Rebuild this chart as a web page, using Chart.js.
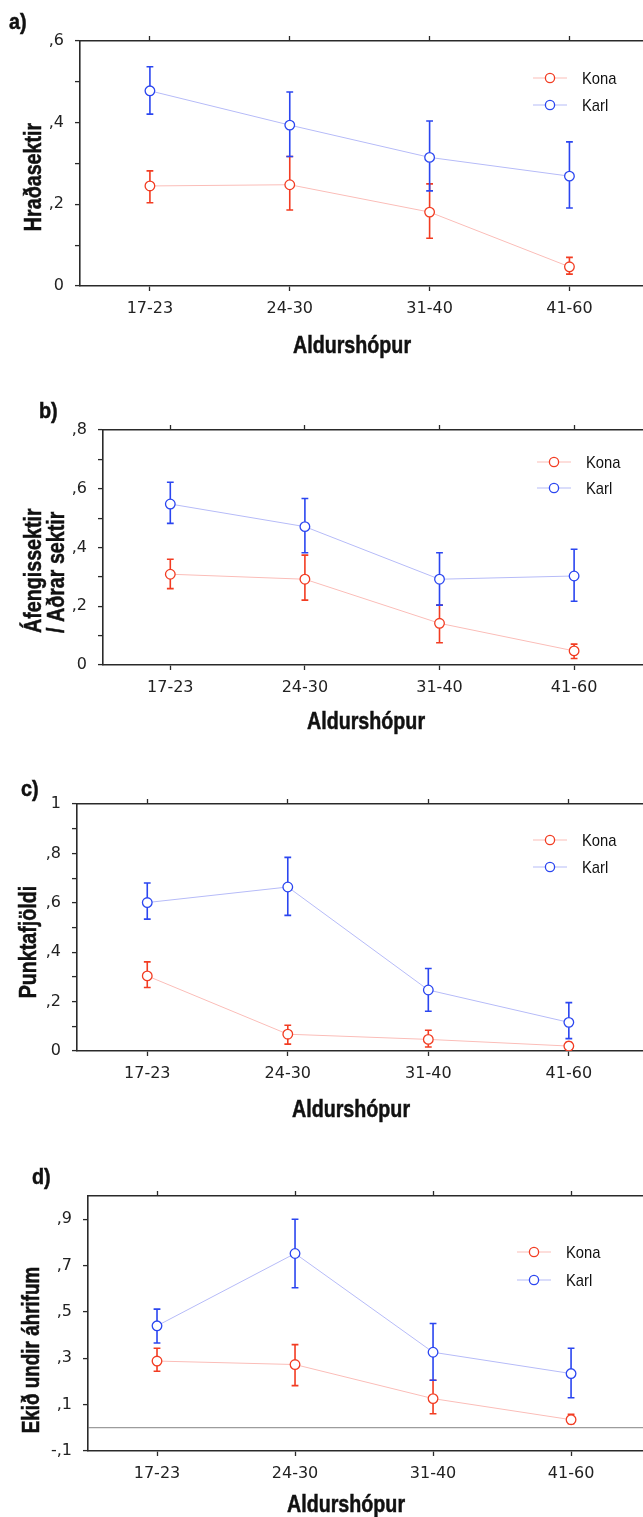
<!DOCTYPE html>
<html lang="is">
<head>
<meta charset="utf-8">
<title>Sektir eftir aldurshópi og kyni</title>
<script src="https://cdn.jsdelivr.net/npm/chart.js@4"></script>
<style>
  html, body { margin: 0; padding: 0; background: #fff; }
  #sida { position: relative; width: 643px; height: 1517px; overflow: hidden; background: #fff; }
  #sida > div { position: absolute; left: 0; width: 700px; }
</style>
</head>
<body>
<div id="sida"></div>
<script>
// Meðaltöl og öryggisbil eftir aldurshópi og kyni
const aldursflokkar = ['17-23', '24-30', '31-40', '41-60'];

// a) Hraðasektir
const hradiKona = [0.245, 0.248, 0.181, 0.047];
const hradiKonaNedri = [0.204, 0.186, 0.117, 0.029];
const hradiKonaEfri = [0.282, 0.317, 0.250, 0.070];
const hradiKarl = [0.478, 0.394, 0.315, 0.269];
const hradiKarlNedri = [0.421, 0.317, 0.233, 0.191];
const hradiKarlEfri = [0.537, 0.475, 0.404, 0.353];
const hradiYTikk = [0, 0.1, 0.2, 0.3, 0.4, 0.5, 0.6];
const hradiYMerki = ['0', '', ',2', '', ',4', '', ',6'];

// b) Áfengissektir / Aðrar sektir
const afengiKona = [0.309, 0.292, 0.142, 0.048];
const afengiKonaNedri = [0.260, 0.221, 0.076, 0.022];
const afengiKonaEfri = [0.360, 0.374, 0.204, 0.071];
const afengiKarl = [0.548, 0.471, 0.292, 0.303];
const afengiKarlNedri = [0.482, 0.382, 0.204, 0.217];
const afengiKarlEfri = [0.622, 0.567, 0.382, 0.394];
const afengiYTikk = [0, 0.1, 0.2, 0.3, 0.4, 0.5, 0.6, 0.7, 0.8];
const afengiYMerki = ['0', '', ',2', '', ',4', '', ',6', '', ',8'];

// c) Punktafjöldi
const punktarKona = [0.304, 0.068, 0.047, 0.020];
const punktarKonaNedri = [0.257, 0.028, 0.016, 0.006];
const punktarKonaEfri = [0.361, 0.104, 0.084, 0.035];
const punktarKarl = [0.601, 0.664, 0.247, 0.116];
const punktarKarlNedri = [0.534, 0.549, 0.161, 0.050];
const punktarKarlEfri = [0.680, 0.784, 0.334, 0.196];
const punktarYTikk = [0, 0.1, 0.2, 0.3, 0.4, 0.5, 0.6, 0.7, 0.8, 0.9, 1];
const punktarYMerki = ['0', '', ',2', '', ',4', '', ',6', '', ',8', '', '1'];

// d) Ekið undir áhrifum
const olvunKona = [0.288, 0.273, 0.126, 0.035];
const olvunKonaNedri = [0.244, 0.182, 0.061, 0.018];
const olvunKonaEfri = [0.343, 0.359, 0.205, 0.058];
const olvunKarl = [0.440, 0.752, 0.326, 0.234];
const olvunKarlNedri = [0.366, 0.604, 0.205, 0.130];
const olvunKarlEfri = [0.512, 0.900, 0.450, 0.343];
const olvunYTikk = [-0.1, 0, 0.1, 0.3, 0.5, 0.7, 0.9];
const olvunYMerki = ['-,1', '', ',1', ',3', ',5', ',7', ',9'];

// Litir og letur
const konaLitur = '#f23c22';
const konaLina = '#fbbdb8';
const karlLitur = '#2b46f0';
const karlLina = '#b6bbf8';
const asLitur = '#2a2a2a';
const LETUR = "'Liberation Sans', Arial, sans-serif";
const SANS = "'DejaVu Sans', Verdana, sans-serif";

// Mjór texti: venjulegt letur þjappað lárétt, með útlínu ef það á að vera feitt
function mjottLetur(ctx, texti, x, y, snuningur, thjoppun, utlina) {
  ctx.save();
  ctx.translate(x, y);
  if (snuningur) ctx.rotate(snuningur);
  ctx.scale(thjoppun, 1);
  ctx.fillText(texti, 0, 0);
  if (utlina) {
    ctx.lineWidth = utlina;
    ctx.strokeStyle = ctx.fillStyle;
    ctx.strokeText(texti, 0, 0);
  }
  ctx.restore();
}

// Villustrik (öryggisbil) teiknuð á kvarða myndarinnar
const villustrik = {
  id: 'villustrik',
  beforeDatasetsDraw(chart) {
    const { ctx, scales: { x, y } } = chart;
    ctx.save();
    ctx.lineWidth = 1.6;
    chart.data.datasets.forEach(ds => {
      ctx.strokeStyle = ds.pointBorderColor;
      ds.nedri.forEach((lo, i) => {
        const px = x.getPixelForValue(i);
        const y1 = y.getPixelForValue(lo);
        const y2 = y.getPixelForValue(ds.efri[i]);
        ctx.beginPath();
        ctx.moveTo(px, y1); ctx.lineTo(px, y2);
        ctx.moveTo(px - 3.4, y1); ctx.lineTo(px + 3.4, y1);
        ctx.moveTo(px - 3.4, y2); ctx.lineTo(px + 3.4, y2);
        ctx.stroke();
      });
    });
    ctx.restore();
  }
};

// Stafur, ástitlar og skýringar
const textar = {
  id: 'textar',
  afterDraw(chart, args, o) {
    const ctx = chart.ctx;
    ctx.save();
    ctx.fillStyle = '#111';
    ctx.textBaseline = 'middle';
    ctx.textAlign = 'left';
    ctx.font = `bold 22px ${LETUR}`;
    mjottLetur(ctx, o.stafur.texti, o.stafur.x, o.stafur.y, 0, 0.9, 0.5);

    ctx.font = `bold 24px ${LETUR}`;
    ctx.textAlign = 'center';
    mjottLetur(ctx, 'Aldurshópur', o.xTitill.x, o.xTitill.y, 0, 0.82, 0.5);

    ctx.font = `bold ${o.yTitill.staerd}px ${LETUR}`;
    ctx.textAlign = o.yTitill.jofnun;
    ctx.textBaseline = 'alphabetic';
    o.yTitill.linur.forEach(l => {
      mjottLetur(ctx, l.texti, l.x, o.yTitill.y, -Math.PI / 2, 0.82, 0.5);
    });

    ctx.textBaseline = 'middle';
    chart.data.datasets.forEach((ds, i) => {
      const lx = o.skyring.x;
      const ly = o.skyring.y[i];
      ctx.strokeStyle = ds.borderColor;
      ctx.lineWidth = 1.2;
      ctx.beginPath();
      ctx.moveTo(lx - 17, ly); ctx.lineTo(lx + 17, ly);
      ctx.stroke();
      ctx.beginPath();
      ctx.arc(lx, ly, 4.6, 0, Math.PI * 2);
      ctx.fillStyle = '#fff';
      ctx.fill();
      ctx.strokeStyle = ds.pointBorderColor;
      ctx.lineWidth = 1.3;
      ctx.stroke();
      ctx.fillStyle = '#111';
      ctx.font = `17px ${LETUR}`;
      ctx.textAlign = 'left';
      mjottLetur(ctx, ds.label, lx + 32, ly + 1, 0, 0.87, 0);
    });
    ctx.restore();
  }
};

function rod(label, gildi, nedri, efri, litur, lina) {
  return {
    label,
    data: gildi.map((v, i) => ({ x: i, y: v })),
    nedri,
    efri,
    borderColor: lina,
    borderWidth: 1,
    pointRadius: 4.8,
    pointBorderWidth: 1.3,
    pointBackgroundColor: '#fff',
    pointBorderColor: litur,
    tension: 0
  };
}

function mynd(c) {
  const box = document.createElement('div');
  box.style.top = c.efst + 'px';
  box.style.height = c.haed + 'px';
  const canvas = document.createElement('canvas');
  canvas.width = 700;
  canvas.height = c.haed;
  box.appendChild(canvas);
  document.getElementById('sida').appendChild(box);

  const xTikk = s => { s.ticks = aldursflokkar.map((_, i) => ({ value: i })); };
  const grind = { drawOnChartArea: false, tickLength: 5, tickColor: asLitur, tickWidth: 1.3 };

  new Chart(canvas.getContext('2d'), {
    type: 'line',
    data: { datasets: c.rodir },
    options: {
      responsive: false,
      animation: false,
      events: [],
      devicePixelRatio: 1,
      layout: { padding: 0 },
      plugins: {
        legend: { display: false },
        tooltip: { enabled: false },
        textar: c.textar
      },
      scales: {
        x: {
          type: 'linear', position: 'bottom', min: -0.5, max: 3.89,
          afterBuildTicks: xTikk,
          afterFit: s => { s.height = c.haed - c.nidri; },
          ticks: {
            callback: v => aldursflokkar[v], autoSkip: false, maxRotation: 0,
            color: '#222', font: { family: SANS, size: 16 }, padding: 8
          },
          grid: grind,
          border: { color: asLitur, width: 1.6 }
        },
        x2: {
          type: 'linear', position: 'top', min: -0.5, max: 3.89,
          afterBuildTicks: xTikk,
          afterFit: s => { s.height = c.uppi; },
          ticks: { display: false },
          grid: grind,
          border: { color: asLitur, width: 1.6 }
        },
        y: {
          min: c.ymin, max: c.ymax,
          afterBuildTicks: s => { s.ticks = c.yTikk.map(v => ({ value: v })); },
          afterFit: s => { s.width = c.vinstri; },
          ticks: {
            callback: (v, i) => c.yMerki[i],
            color: '#222', font: { family: SANS, size: 16 }, padding: 11
          },
          grid: {
            drawOnChartArea: c.nullLina,
            color: ctx => (ctx.tick && ctx.tick.value === 0 ? '#9c9c9c' : 'rgba(0,0,0,0)'),
            lineWidth: 1.2,
            tickLength: 5,
            tickWidth: 1.3,
            tickColor: ctx => (c.nullLina && ctx.tick && ctx.tick.value === 0 ? 'rgba(0,0,0,0)' : asLitur)
          },
          border: { color: asLitur, width: 1.6 }
        }
      }
    },
    plugins: [villustrik, textar]
  });
}

// a)
mynd({
  efst: 0, haed: 370, vinstri: 80, uppi: 41, nidri: 286,
  ymin: 0, ymax: 0.6, yTikk: hradiYTikk, yMerki: hradiYMerki, nullLina: false,
  rodir: [
    rod('Kona', hradiKona, hradiKonaNedri, hradiKonaEfri, konaLitur, konaLina),
    rod('Karl', hradiKarl, hradiKarlNedri, hradiKarlEfri, karlLitur, karlLina)
  ],
  textar: {
    stafur: { texti: 'a)', x: 9, y: 23 },
    xTitill: { x: 352, y: 346 },
    yTitill: { y: 177, staerd: 24, jofnun: 'center', linur: [{ texti: 'Hraðasektir', x: 41 }] },
    skyring: { x: 550, y: [78, 105] }
  }
});

// b)
mynd({
  efst: 370, haed: 380, vinstri: 103, uppi: 60, nidri: 295,
  ymin: 0, ymax: 0.8, yTikk: afengiYTikk, yMerki: afengiYMerki, nullLina: false,
  rodir: [
    rod('Kona', afengiKona, afengiKonaNedri, afengiKonaEfri, konaLitur, konaLina),
    rod('Karl', afengiKarl, afengiKarlNedri, afengiKarlEfri, karlLitur, karlLina)
  ],
  textar: {
    stafur: { texti: 'b)', x: 39, y: 42 },
    xTitill: { x: 366, y: 352 },
    yTitill: {
      y: 263, staerd: 24, jofnun: 'left',
      linur: [{ texti: 'Áfengissektir', x: 41 }, { texti: '/ Aðrar sektir', x: 64 }]
    },
    skyring: { x: 554, y: [92, 118] }
  }
});

// c)
mynd({
  efst: 770, haed: 370, vinstri: 77, uppi: 34, nidri: 281,
  ymin: 0, ymax: 1, yTikk: punktarYTikk, yMerki: punktarYMerki, nullLina: false,
  rodir: [
    rod('Kona', punktarKona, punktarKonaNedri, punktarKonaEfri, konaLitur, konaLina),
    rod('Karl', punktarKarl, punktarKarlNedri, punktarKarlEfri, karlLitur, karlLina)
  ],
  textar: {
    stafur: { texti: 'c)', x: 21, y: 20 },
    xTitill: { x: 351, y: 340 },
    yTitill: { y: 172, staerd: 24, jofnun: 'center', linur: [{ texti: 'Punktafjöldi', x: 36 }] },
    skyring: { x: 550, y: [70, 97] }
  }
});

// d)
mynd({
  efst: 1150, haed: 367, vinstri: 88, uppi: 46, nidri: 301,
  ymin: -0.1, ymax: 1.0, yTikk: olvunYTikk, yMerki: olvunYMerki, nullLina: true,
  rodir: [
    rod('Kona', olvunKona, olvunKonaNedri, olvunKonaEfri, konaLitur, konaLina),
    rod('Karl', olvunKarl, olvunKarlNedri, olvunKarlEfri, karlLitur, karlLina)
  ],
  textar: {
    stafur: { texti: 'd)', x: 32, y: 28 },
    xTitill: { x: 346, y: 355 },
    yTitill: { y: 200, staerd: 23, jofnun: 'center', linur: [{ texti: 'Ekið undir áhrifum', x: 39 }] },
    skyring: { x: 534, y: [102, 130] }
  }
});
</script>
</body>
</html>
